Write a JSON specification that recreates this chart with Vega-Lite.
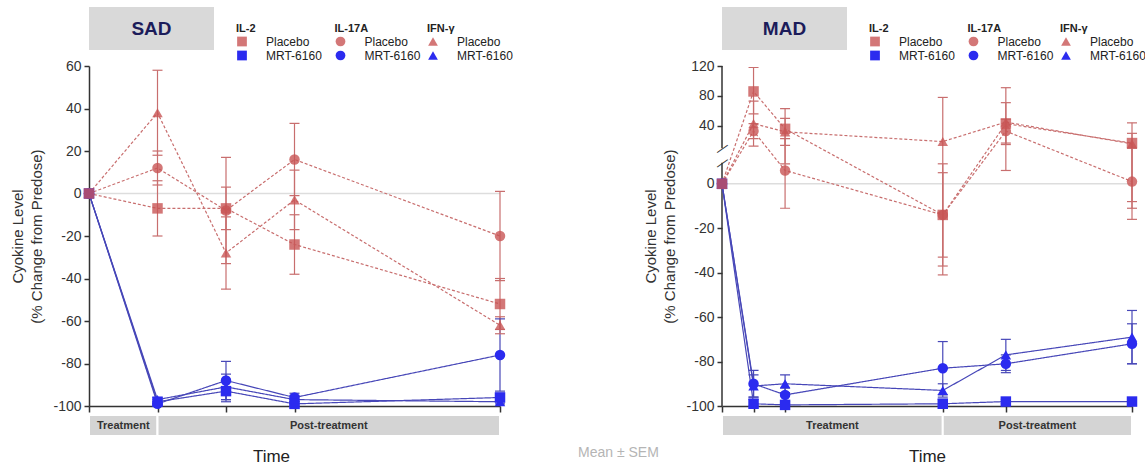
{
  "$schema": "https://vega.github.io/schema/vega-lite/v6.json",
  "background": "white",
  "padding": {"left": 10, "top": 7, "right": 0, "bottom": 0},
  "config": {
    "font": "Liberation Sans",
    "view": {"stroke": null},
    "axis": {"grid": false, "domainColor": "#333", "domainWidth": 1.5, "tickColor": "#333", "tickWidth": 1.5, "labelColor": "#333", "labelFontSize": 14, "labelFont": "Liberation Sans", "titleFont": "Liberation Sans", "titleColor": "#333", "titleFontWeight": "normal"},
    "axisY": {"tickSize": 5, "labelPadding": 3, "titleFontSize": 15, "titleLineHeight": 19.5, "titlePadding": 8},
    "legend": {"orient": "none", "direction": "vertical", "titleFontSize": 11, "titleFontWeight": "bold", "titleColor": "#222", "titlePadding": 2, "labelFontSize": 12, "labelColor": "#222", "labelOffset": 18, "symbolSize": 95, "symbolStrokeWidth": 0, "rowPadding": 2, "labelLimit": 200}
  },
  "title": {"text": "Mean ± SEM", "orient": "bottom", "anchor": "start", "frame": "group", "offset": -18, "dx": 489, "fontSize": 14, "fontWeight": "normal", "color": "#b5b5b5", "font": "Liberation Sans"},
  "datasets": {
    "sad": [
      {"cytokine": "IL-2", "group": "MRT-6160", "t": 0, "mean": 0},
      {"cytokine": "IL-2", "group": "MRT-6160", "t": 1, "mean": -98, "lo": -99, "hi": -97},
      {"cytokine": "IL-2", "group": "MRT-6160", "t": 2, "mean": -93, "lo": -98, "hi": -88},
      {"cytokine": "IL-2", "group": "MRT-6160", "t": 3, "mean": -99, "lo": -100, "hi": -98},
      {"cytokine": "IL-2", "group": "MRT-6160", "t": 6, "mean": -96, "lo": -98, "hi": -94},
      {"cytokine": "IL-17A", "group": "MRT-6160", "t": 0, "mean": 0},
      {"cytokine": "IL-17A", "group": "MRT-6160", "t": 1, "mean": -99, "lo": -100, "hi": -98},
      {"cytokine": "IL-17A", "group": "MRT-6160", "t": 2, "mean": -88, "lo": -97, "hi": -79},
      {"cytokine": "IL-17A", "group": "MRT-6160", "t": 3, "mean": -96, "lo": -98, "hi": -94},
      {"cytokine": "IL-17A", "group": "MRT-6160", "t": 6, "mean": -76, "lo": -93, "hi": -59},
      {"cytokine": "IFN-γ", "group": "MRT-6160", "t": 0, "mean": 0},
      {"cytokine": "IFN-γ", "group": "MRT-6160", "t": 1, "mean": -97, "lo": -98, "hi": -96},
      {"cytokine": "IFN-γ", "group": "MRT-6160", "t": 2, "mean": -91, "lo": -97, "hi": -85},
      {"cytokine": "IFN-γ", "group": "MRT-6160", "t": 3, "mean": -97, "lo": -99, "hi": -95},
      {"cytokine": "IFN-γ", "group": "MRT-6160", "t": 6, "mean": -98, "lo": -99, "hi": -97},
      {"cytokine": "IL-2", "group": "Placebo", "t": 0, "mean": 0},
      {"cytokine": "IL-2", "group": "Placebo", "t": 1, "mean": -7, "lo": -20, "hi": 6},
      {"cytokine": "IL-2", "group": "Placebo", "t": 2, "mean": -7, "lo": -17, "hi": 3},
      {"cytokine": "IL-2", "group": "Placebo", "t": 3, "mean": -24, "lo": -38, "hi": -10},
      {"cytokine": "IL-2", "group": "Placebo", "t": 6, "mean": -52, "lo": -64, "hi": -40},
      {"cytokine": "IL-17A", "group": "Placebo", "t": 0, "mean": 0},
      {"cytokine": "IL-17A", "group": "Placebo", "t": 1, "mean": 12, "lo": 4, "hi": 20},
      {"cytokine": "IL-17A", "group": "Placebo", "t": 2, "mean": -8, "lo": -33, "hi": 17},
      {"cytokine": "IL-17A", "group": "Placebo", "t": 3, "mean": 16, "lo": -1, "hi": 33},
      {"cytokine": "IL-17A", "group": "Placebo", "t": 6, "mean": -20, "lo": -41, "hi": 1},
      {"cytokine": "IFN-γ", "group": "Placebo", "t": 0, "mean": 0},
      {"cytokine": "IFN-γ", "group": "Placebo", "t": 1, "mean": 38, "lo": 18, "hi": 58},
      {"cytokine": "IFN-γ", "group": "Placebo", "t": 2, "mean": -28, "lo": -45, "hi": -11},
      {"cytokine": "IFN-γ", "group": "Placebo", "t": 3, "mean": -3, "lo": -17, "hi": 11},
      {"cytokine": "IFN-γ", "group": "Placebo", "t": 6, "mean": -62, "lo": -66, "hi": -58}
    ],
    "mad": [
      {"cytokine": "IL-2", "group": "MRT-6160", "t": 0, "mean": 0},
      {"cytokine": "IL-2", "group": "MRT-6160", "t": 1, "mean": -99, "lo": -100, "hi": -97},
      {"cytokine": "IL-2", "group": "MRT-6160", "t": 2, "mean": -99.5, "lo": -100, "hi": -99},
      {"cytokine": "IL-2", "group": "MRT-6160", "t": 7, "mean": -99, "lo": -100, "hi": -97},
      {"cytokine": "IL-2", "group": "MRT-6160", "t": 9, "mean": -98, "lo": -99, "hi": -97},
      {"cytokine": "IL-2", "group": "MRT-6160", "t": 13, "mean": -98, "lo": -99, "hi": -97},
      {"cytokine": "IL-17A", "group": "MRT-6160", "t": 0, "mean": 0},
      {"cytokine": "IL-17A", "group": "MRT-6160", "t": 1, "mean": -90, "lo": -96, "hi": -84},
      {"cytokine": "IL-17A", "group": "MRT-6160", "t": 2, "mean": -95, "lo": -98, "hi": -92},
      {"cytokine": "IL-17A", "group": "MRT-6160", "t": 7, "mean": -83, "lo": -95, "hi": -71},
      {"cytokine": "IL-17A", "group": "MRT-6160", "t": 9, "mean": -81, "lo": -85, "hi": -77},
      {"cytokine": "IL-17A", "group": "MRT-6160", "t": 13, "mean": -72, "lo": -81, "hi": -63},
      {"cytokine": "IFN-γ", "group": "MRT-6160", "t": 0, "mean": 0},
      {"cytokine": "IFN-γ", "group": "MRT-6160", "t": 1, "mean": -91, "lo": -96, "hi": -86},
      {"cytokine": "IFN-γ", "group": "MRT-6160", "t": 2, "mean": -90, "lo": -94, "hi": -86},
      {"cytokine": "IFN-γ", "group": "MRT-6160", "t": 7, "mean": -93, "lo": -96, "hi": -90},
      {"cytokine": "IFN-γ", "group": "MRT-6160", "t": 9, "mean": -77, "lo": -84, "hi": -70},
      {"cytokine": "IFN-γ", "group": "MRT-6160", "t": 13, "mean": -69, "lo": -81, "hi": -57},
      {"cytokine": "IL-2", "group": "Placebo", "t": 0, "mean": 0},
      {"cytokine": "IL-2", "group": "Placebo", "t": 1, "mean": 86, "lo": 56, "hi": 118},
      {"cytokine": "IL-2", "group": "Placebo", "t": 2, "mean": 36, "lo": 9, "hi": 63},
      {"cytokine": "IL-2", "group": "Placebo", "t": 7, "mean": -14, "lo": -33, "hi": 5},
      {"cytokine": "IL-2", "group": "Placebo", "t": 9, "mean": 43, "lo": 15, "hi": 71},
      {"cytokine": "IL-2", "group": "Placebo", "t": 13, "mean": 17, "lo": -11, "hi": 44},
      {"cytokine": "IL-17A", "group": "Placebo", "t": 0, "mean": 0},
      {"cytokine": "IL-17A", "group": "Placebo", "t": 1, "mean": 33, "lo": 23, "hi": 43},
      {"cytokine": "IL-17A", "group": "Placebo", "t": 2, "mean": 6, "lo": -11, "hi": 23},
      {"cytokine": "IL-17A", "group": "Placebo", "t": 7, "mean": -14, "lo": -37, "hi": 9},
      {"cytokine": "IL-17A", "group": "Placebo", "t": 9, "mean": 33, "lo": 17, "hi": 49},
      {"cytokine": "IL-17A", "group": "Placebo", "t": 13, "mean": 1, "lo": -8, "hi": 10},
      {"cytokine": "IFN-γ", "group": "Placebo", "t": 0, "mean": 0},
      {"cytokine": "IFN-γ", "group": "Placebo", "t": 1, "mean": 43, "lo": 13, "hi": 73},
      {"cytokine": "IFN-γ", "group": "Placebo", "t": 2, "mean": 32, "lo": 14, "hi": 50},
      {"cytokine": "IFN-γ", "group": "Placebo", "t": 7, "mean": 19, "lo": -41, "hi": 78},
      {"cytokine": "IFN-γ", "group": "Placebo", "t": 9, "mean": 45, "lo": 6, "hi": 91},
      {"cytokine": "IFN-γ", "group": "Placebo", "t": 13, "mean": 16, "lo": -16, "hi": 30}
    ]
  },
  "spacing": 130,
  "resolve": {"scale": {"color": "independent", "stroke": "independent", "fill": "independent", "strokeDash": "independent"}, "legend": {"color": "independent"}},
  "hconcat": [
    {
      "spacing": 16,
      "bounds": "flush",
      "resolve": {"scale": {"color": "independent", "stroke": "independent", "fill": "independent", "strokeDash": "independent"}, "legend": {"color": "independent"}},
      "vconcat": [
        {
          "width": 125, "height": 43,
          "view": {"fill": "#d9d9d9", "stroke": null},
          "data": {"values": [{"label": "SAD"}]},
          "mark": {"type": "text", "fontSize": 19, "fontWeight": "bold", "color": "#1c1c5a", "font": "Liberation Sans"},
          "encoding": {"text": {"field": "label", "type": "nominal"}}
        },
        {
          "spacing": 9,
          "bounds": "flush",
          "resolve": {"scale": {"color": "independent", "stroke": "independent", "fill": "independent", "strokeDash": "independent"}, "legend": {"color": "independent"}},
          "vconcat": [
            {
              "width": 411, "height": 340,
              "resolve": {"scale": {"color": "independent"}, "legend": {"color": "independent"}},
              "layer": [
                {
                  "data": {"values": [{"z": 0}]},
                  "mark": {"type": "rule", "color": "#dddddd", "strokeWidth": 1.5},
                  "encoding": {"y": {"field": "z", "type": "quantitative", "scale": {"domain": [-100, 60], "nice": false, "zero": false}, "axis": {"values": [-100, -80, -60, -40, -20, 0, 20, 40, 60], "labelExpr": "toString(datum.value)", "title": ["Cyokine Level", "(% Change from Predose)"]}}}
                },
                {
                  "data": {"name": "sad"},
                  "transform": [{"calculate": "datum.cytokine + '|' + datum.group", "as": "series"}],
                  "mark": {"type": "rule", "strokeWidth": 1.2},
                  "encoding": {
                    "x": {"field": "t", "type": "quantitative", "scale": {"domain": [0, 6], "nice": false, "zero": false}, "axis": {"values": [0, 1, 2, 3, 6], "labels": false, "title": null, "tickSize": 6}},
                    "y": {"field": "lo", "type": "quantitative", "scale": {"domain": [-100, 60], "nice": false, "zero": false}, "axis": {"values": [-100, -80, -60, -40, -20, 0, 20, 40, 60], "labelExpr": "toString(datum.value)", "title": ["Cyokine Level", "(% Change from Predose)"]}},
                    "y2": {"field": "hi"},
                    "stroke": {"field": "series", "type": "nominal", "legend": null, "scale": {"domain": ["IL-2|Placebo", "IL-17A|Placebo", "IFN-γ|Placebo", "IL-2|MRT-6160", "IL-17A|MRT-6160", "IFN-γ|MRT-6160"], "range": ["#c86e6e", "#c86e6e", "#c86e6e", "#4747b8", "#4747b8", "#4747b8"]}}
                  }
                },
                {
                  "data": {"name": "sad"},
                  "transform": [{"calculate": "datum.cytokine + '|' + datum.group", "as": "series"}],
                  "mark": {"type": "tick", "orient": "horizontal", "size": 10, "thickness": 1.2, "opacity": 1},
                  "encoding": {
                    "x": {"field": "t", "type": "quantitative", "scale": {"domain": [0, 6], "nice": false, "zero": false}, "axis": {"values": [0, 1, 2, 3, 6], "labels": false, "title": null, "tickSize": 6}},
                    "y": {"field": "lo", "type": "quantitative", "scale": {"domain": [-100, 60], "nice": false, "zero": false}, "axis": {"values": [-100, -80, -60, -40, -20, 0, 20, 40, 60], "labelExpr": "toString(datum.value)", "title": ["Cyokine Level", "(% Change from Predose)"]}},
                    "fill": {"field": "series", "type": "nominal", "legend": null, "scale": {"domain": ["IL-2|Placebo", "IL-17A|Placebo", "IFN-γ|Placebo", "IL-2|MRT-6160", "IL-17A|MRT-6160", "IFN-γ|MRT-6160"], "range": ["#c86e6e", "#c86e6e", "#c86e6e", "#4747b8", "#4747b8", "#4747b8"]}}
                  }
                },
                {
                  "data": {"name": "sad"},
                  "transform": [{"calculate": "datum.cytokine + '|' + datum.group", "as": "series"}],
                  "mark": {"type": "tick", "orient": "horizontal", "size": 10, "thickness": 1.2, "opacity": 1},
                  "encoding": {
                    "x": {"field": "t", "type": "quantitative", "scale": {"domain": [0, 6], "nice": false, "zero": false}, "axis": {"values": [0, 1, 2, 3, 6], "labels": false, "title": null, "tickSize": 6}},
                    "y": {"field": "hi", "type": "quantitative", "scale": {"domain": [-100, 60], "nice": false, "zero": false}, "axis": {"values": [-100, -80, -60, -40, -20, 0, 20, 40, 60], "labelExpr": "toString(datum.value)", "title": ["Cyokine Level", "(% Change from Predose)"]}},
                    "fill": {"field": "series", "type": "nominal", "legend": null, "scale": {"domain": ["IL-2|Placebo", "IL-17A|Placebo", "IFN-γ|Placebo", "IL-2|MRT-6160", "IL-17A|MRT-6160", "IFN-γ|MRT-6160"], "range": ["#c86e6e", "#c86e6e", "#c86e6e", "#4747b8", "#4747b8", "#4747b8"]}}
                  }
                },
                {
                  "data": {"name": "sad"},
                  "transform": [{"calculate": "datum.cytokine + '|' + datum.group", "as": "series"}],
                  "mark": {"type": "line", "strokeWidth": 1.2},
                  "encoding": {
                    "x": {"field": "t", "type": "quantitative", "scale": {"domain": [0, 6], "nice": false, "zero": false}, "axis": {"values": [0, 1, 2, 3, 6], "labels": false, "title": null, "tickSize": 6}},
                    "y": {"field": "mean", "type": "quantitative", "scale": {"domain": [-100, 60], "nice": false, "zero": false}, "axis": {"values": [-100, -80, -60, -40, -20, 0, 20, 40, 60], "labelExpr": "toString(datum.value)", "title": ["Cyokine Level", "(% Change from Predose)"]}},
                    "stroke": {"field": "series", "type": "nominal", "legend": null, "scale": {"domain": ["IL-2|Placebo", "IL-17A|Placebo", "IFN-γ|Placebo", "IL-2|MRT-6160", "IL-17A|MRT-6160", "IFN-γ|MRT-6160"], "range": ["#d28484", "#d28484", "#d28484", "#4a4ab0", "#4a4ab0", "#4a4ab0"]}},
                    "strokeDash": {"field": "group", "type": "nominal", "legend": null, "scale": {"domain": ["Placebo", "MRT-6160"], "range": [[3, 2], [1, 0]]}}
                  }
                },
                {
                  "data": {"name": "sad"},
                  "transform": [{"filter": "datum.cytokine == 'IFN-γ'"}],
                  "mark": {"type": "point", "shape": "triangle-up", "filled": true, "size": 110, "opacity": 1, "strokeWidth": 0},
                  "encoding": {
                    "x": {"field": "t", "type": "quantitative", "scale": {"domain": [0, 6], "nice": false, "zero": false}, "axis": {"values": [0, 1, 2, 3, 6], "labels": false, "title": null, "tickSize": 6}},
                    "y": {"field": "mean", "type": "quantitative", "scale": {"domain": [-100, 60], "nice": false, "zero": false}, "axis": {"values": [-100, -80, -60, -40, -20, 0, 20, 40, 60], "labelExpr": "toString(datum.value)", "title": ["Cyokine Level", "(% Change from Predose)"]}},
                    "color": {"field": "group", "type": "nominal", "scale": {"domain": ["Placebo", "MRT-6160"], "range": ["rgba(200,85,85,0.8)", "#2b2bef"]},
                      "legend": {"title": "IFN-γ", "legendX": 338, "legendY": -43.5, "symbolType": "triangle-up"}}
                  }
                },
                {
                  "data": {"name": "sad"},
                  "transform": [{"filter": "datum.cytokine == 'IL-17A'"}],
                  "mark": {"type": "point", "shape": "circle", "filled": true, "size": 110, "opacity": 1, "strokeWidth": 0},
                  "encoding": {
                    "x": {"field": "t", "type": "quantitative", "scale": {"domain": [0, 6], "nice": false, "zero": false}, "axis": {"values": [0, 1, 2, 3, 6], "labels": false, "title": null, "tickSize": 6}},
                    "y": {"field": "mean", "type": "quantitative", "scale": {"domain": [-100, 60], "nice": false, "zero": false}, "axis": {"values": [-100, -80, -60, -40, -20, 0, 20, 40, 60], "labelExpr": "toString(datum.value)", "title": ["Cyokine Level", "(% Change from Predose)"]}},
                    "color": {"field": "group", "type": "nominal", "scale": {"domain": ["Placebo", "MRT-6160"], "range": ["rgba(200,85,85,0.8)", "#2b2bef"]},
                      "legend": {"title": "IL-17A", "legendX": 245.5, "legendY": -43.5, "symbolType": "circle"}}
                  }
                },
                {
                  "data": {"name": "sad"},
                  "transform": [{"filter": "datum.cytokine == 'IL-2'"}],
                  "mark": {"type": "point", "shape": "square", "filled": true, "size": 110, "opacity": 1, "strokeWidth": 0},
                  "encoding": {
                    "x": {"field": "t", "type": "quantitative", "scale": {"domain": [0, 6], "nice": false, "zero": false}, "axis": {"values": [0, 1, 2, 3, 6], "labels": false, "title": null, "tickSize": 6}},
                    "y": {"field": "mean", "type": "quantitative", "scale": {"domain": [-100, 60], "nice": false, "zero": false}, "axis": {"values": [-100, -80, -60, -40, -20, 0, 20, 40, 60], "labelExpr": "toString(datum.value)", "title": ["Cyokine Level", "(% Change from Predose)"]}},
                    "color": {"field": "group", "type": "nominal", "scale": {"domain": ["Placebo", "MRT-6160"], "range": ["rgba(200,85,85,0.8)", "#2b2bef"]},
                      "legend": {"title": "IL-2", "legendX": 147, "legendY": -43.5, "symbolType": "square"}}
                  }
                }
              ]
            },
            {
              "width": 411, "height": 21,
              "data": {"values": [{"phase": "Treatment", "start": 0, "end": 1}, {"phase": "Post-treatment", "start": 1, "end": 6}]},
              "transform": [{"calculate": "(datum.start + datum.end) / 2", "as": "mid"}],
              "layer": [
                {
                  "mark": {"type": "rect", "color": "#d4d4d4", "stroke": "white", "strokeWidth": 2},
                  "encoding": {
                    "x": {"field": "start", "type": "quantitative", "scale": {"domain": [0, 6], "nice": false, "zero": false},
                      "axis": {"domain": false, "ticks": false, "labels": false, "title": "Time", "titleFontSize": 17, "titleColor": "#222", "titlePadding": 12, "titleX": 182}},
                    "x2": {"field": "end"}
                  }
                },
                {
                  "mark": {"type": "text", "fontSize": 11, "fontWeight": "bold", "color": "#333"},
                  "encoding": {
                    "x": {"field": "mid", "type": "quantitative", "scale": {"domain": [0, 6], "nice": false, "zero": false},
                      "axis": {"domain": false, "ticks": false, "labels": false, "title": "Time", "titleFontSize": 17, "titleColor": "#222", "titlePadding": 12, "titleX": 182}},
                    "text": {"field": "phase", "type": "nominal"}
                  }
                }
              ]
            }
          ]
        }
      ]
    },
    {
      "spacing": 16,
      "bounds": "flush",
      "resolve": {"scale": {"color": "independent", "stroke": "independent", "fill": "independent", "strokeDash": "independent"}, "legend": {"color": "independent"}},
      "vconcat": [
        {
          "width": 125, "height": 43,
          "view": {"fill": "#d9d9d9", "stroke": null},
          "data": {"values": [{"label": "MAD"}]},
          "mark": {"type": "text", "fontSize": 19, "fontWeight": "bold", "color": "#1c1c5a", "font": "Liberation Sans"},
          "encoding": {"text": {"field": "label", "type": "nominal"}}
        },
        {
          "spacing": 9,
          "bounds": "flush",
          "resolve": {"scale": {"color": "independent", "stroke": "independent", "fill": "independent", "strokeDash": "independent"}, "legend": {"color": "independent"}},
          "vconcat": [
            {
              "width": 410, "height": 340,
              "resolve": {"scale": {"color": "independent"}, "legend": {"color": "independent"}},
              "layer": [
                {
                  "data": {"values": [{"z": 0}]},
                  "mark": {"type": "rule", "color": "#dddddd", "strokeWidth": 1.5},
                  "encoding": {"y": {"field": "z", "type": "quantitative", "scale": {"domain": [-100, 9.5, 10, 120], "range": [340, 96.7, 82.3, 0], "nice": false, "zero": false}, "axis": {"values": [-100, -80, -60, -40, -20, 0, 40, 80, 120], "labelExpr": "toString(datum.value)", "domain": false, "title": ["Cyokine Level", "(% Change from Predose)"]}}}
                },
                {
                  "data": {"values": [{"a": -100, "b": 9.5}, {"a": 10, "b": 120}]},
                  "mark": {"type": "rule", "color": "#333", "strokeWidth": 1.5},
                  "encoding": {
                    "x": {"datum": 0, "type": "quantitative", "scale": {"domain": [0, 13], "nice": false, "zero": false}, "axis": {"values": [0, 1, 2, 7, 9, 13], "labels": false, "title": null, "tickSize": 6}},
                    "y": {"field": "a", "type": "quantitative", "scale": {"domain": [-100, 9.5, 10, 120], "range": [340, 96.7, 82.3, 0], "nice": false, "zero": false}, "axis": {"values": [-100, -80, -60, -40, -20, 0, 40, 80, 120], "labelExpr": "toString(datum.value)", "domain": false, "title": ["Cyokine Level", "(% Change from Predose)"]}},
                    "y2": {"field": "b"}
                  }
                },
                {
                  "data": {"values": [{"b": 9.5}, {"b": 10}]},
                  "mark": {"type": "text", "text": "—", "angle": -35, "fontSize": 13, "color": "#333"},
                  "encoding": {
                    "x": {"datum": 0, "type": "quantitative", "scale": {"domain": [0, 13], "nice": false, "zero": false}, "axis": {"values": [0, 1, 2, 7, 9, 13], "labels": false, "title": null, "tickSize": 6}},
                    "y": {"field": "b", "type": "quantitative", "scale": {"domain": [-100, 9.5, 10, 120], "range": [340, 96.7, 82.3, 0], "nice": false, "zero": false}, "axis": {"values": [-100, -80, -60, -40, -20, 0, 40, 80, 120], "labelExpr": "toString(datum.value)", "domain": false, "title": ["Cyokine Level", "(% Change from Predose)"]}}
                  }
                },
                {
                  "data": {"name": "mad"},
                  "transform": [{"calculate": "datum.cytokine + '|' + datum.group", "as": "series"}],
                  "mark": {"type": "rule", "strokeWidth": 1.2},
                  "encoding": {
                    "x": {"field": "t", "type": "quantitative", "scale": {"domain": [0, 13], "nice": false, "zero": false}, "axis": {"values": [0, 1, 2, 7, 9, 13], "labels": false, "title": null, "tickSize": 6}},
                    "y": {"field": "lo", "type": "quantitative", "scale": {"domain": [-100, 9.5, 10, 120], "range": [340, 96.7, 82.3, 0], "nice": false, "zero": false}, "axis": {"values": [-100, -80, -60, -40, -20, 0, 40, 80, 120], "labelExpr": "toString(datum.value)", "domain": false, "title": ["Cyokine Level", "(% Change from Predose)"]}},
                    "y2": {"field": "hi"},
                    "stroke": {"field": "series", "type": "nominal", "legend": null, "scale": {"domain": ["IL-2|Placebo", "IL-17A|Placebo", "IFN-γ|Placebo", "IL-2|MRT-6160", "IL-17A|MRT-6160", "IFN-γ|MRT-6160"], "range": ["#c86e6e", "#c86e6e", "#c86e6e", "#4747b8", "#4747b8", "#4747b8"]}}
                  }
                },
                {
                  "data": {"name": "mad"},
                  "transform": [{"calculate": "datum.cytokine + '|' + datum.group", "as": "series"}],
                  "mark": {"type": "tick", "orient": "horizontal", "size": 10, "thickness": 1.2, "opacity": 1},
                  "encoding": {
                    "x": {"field": "t", "type": "quantitative", "scale": {"domain": [0, 13], "nice": false, "zero": false}, "axis": {"values": [0, 1, 2, 7, 9, 13], "labels": false, "title": null, "tickSize": 6}},
                    "y": {"field": "lo", "type": "quantitative", "scale": {"domain": [-100, 9.5, 10, 120], "range": [340, 96.7, 82.3, 0], "nice": false, "zero": false}, "axis": {"values": [-100, -80, -60, -40, -20, 0, 40, 80, 120], "labelExpr": "toString(datum.value)", "domain": false, "title": ["Cyokine Level", "(% Change from Predose)"]}},
                    "fill": {"field": "series", "type": "nominal", "legend": null, "scale": {"domain": ["IL-2|Placebo", "IL-17A|Placebo", "IFN-γ|Placebo", "IL-2|MRT-6160", "IL-17A|MRT-6160", "IFN-γ|MRT-6160"], "range": ["#c86e6e", "#c86e6e", "#c86e6e", "#4747b8", "#4747b8", "#4747b8"]}}
                  }
                },
                {
                  "data": {"name": "mad"},
                  "transform": [{"calculate": "datum.cytokine + '|' + datum.group", "as": "series"}],
                  "mark": {"type": "tick", "orient": "horizontal", "size": 10, "thickness": 1.2, "opacity": 1},
                  "encoding": {
                    "x": {"field": "t", "type": "quantitative", "scale": {"domain": [0, 13], "nice": false, "zero": false}, "axis": {"values": [0, 1, 2, 7, 9, 13], "labels": false, "title": null, "tickSize": 6}},
                    "y": {"field": "hi", "type": "quantitative", "scale": {"domain": [-100, 9.5, 10, 120], "range": [340, 96.7, 82.3, 0], "nice": false, "zero": false}, "axis": {"values": [-100, -80, -60, -40, -20, 0, 40, 80, 120], "labelExpr": "toString(datum.value)", "domain": false, "title": ["Cyokine Level", "(% Change from Predose)"]}},
                    "fill": {"field": "series", "type": "nominal", "legend": null, "scale": {"domain": ["IL-2|Placebo", "IL-17A|Placebo", "IFN-γ|Placebo", "IL-2|MRT-6160", "IL-17A|MRT-6160", "IFN-γ|MRT-6160"], "range": ["#c86e6e", "#c86e6e", "#c86e6e", "#4747b8", "#4747b8", "#4747b8"]}}
                  }
                },
                {
                  "data": {"name": "mad"},
                  "transform": [{"calculate": "datum.cytokine + '|' + datum.group", "as": "series"}],
                  "mark": {"type": "line", "strokeWidth": 1.2},
                  "encoding": {
                    "x": {"field": "t", "type": "quantitative", "scale": {"domain": [0, 13], "nice": false, "zero": false}, "axis": {"values": [0, 1, 2, 7, 9, 13], "labels": false, "title": null, "tickSize": 6}},
                    "y": {"field": "mean", "type": "quantitative", "scale": {"domain": [-100, 9.5, 10, 120], "range": [340, 96.7, 82.3, 0], "nice": false, "zero": false}, "axis": {"values": [-100, -80, -60, -40, -20, 0, 40, 80, 120], "labelExpr": "toString(datum.value)", "domain": false, "title": ["Cyokine Level", "(% Change from Predose)"]}},
                    "stroke": {"field": "series", "type": "nominal", "legend": null, "scale": {"domain": ["IL-2|Placebo", "IL-17A|Placebo", "IFN-γ|Placebo", "IL-2|MRT-6160", "IL-17A|MRT-6160", "IFN-γ|MRT-6160"], "range": ["#d28484", "#d28484", "#d28484", "#4a4ab0", "#4a4ab0", "#4a4ab0"]}},
                    "strokeDash": {"field": "group", "type": "nominal", "legend": null, "scale": {"domain": ["Placebo", "MRT-6160"], "range": [[3, 2], [1, 0]]}}
                  }
                },
                {
                  "data": {"name": "mad"},
                  "transform": [{"filter": "datum.cytokine == 'IFN-γ'"}],
                  "mark": {"type": "point", "shape": "triangle-up", "filled": true, "size": 110, "opacity": 1, "strokeWidth": 0},
                  "encoding": {
                    "x": {"field": "t", "type": "quantitative", "scale": {"domain": [0, 13], "nice": false, "zero": false}, "axis": {"values": [0, 1, 2, 7, 9, 13], "labels": false, "title": null, "tickSize": 6}},
                    "y": {"field": "mean", "type": "quantitative", "scale": {"domain": [-100, 9.5, 10, 120], "range": [340, 96.7, 82.3, 0], "nice": false, "zero": false}, "axis": {"values": [-100, -80, -60, -40, -20, 0, 40, 80, 120], "labelExpr": "toString(datum.value)", "domain": false, "title": ["Cyokine Level", "(% Change from Predose)"]}},
                    "color": {"field": "group", "type": "nominal", "scale": {"domain": ["Placebo", "MRT-6160"], "range": ["rgba(200,85,85,0.8)", "#2b2bef"]},
                      "legend": {"title": "IFN-γ", "legendX": 338, "legendY": -43.5, "symbolType": "triangle-up"}}
                  }
                },
                {
                  "data": {"name": "mad"},
                  "transform": [{"filter": "datum.cytokine == 'IL-17A'"}],
                  "mark": {"type": "point", "shape": "circle", "filled": true, "size": 110, "opacity": 1, "strokeWidth": 0},
                  "encoding": {
                    "x": {"field": "t", "type": "quantitative", "scale": {"domain": [0, 13], "nice": false, "zero": false}, "axis": {"values": [0, 1, 2, 7, 9, 13], "labels": false, "title": null, "tickSize": 6}},
                    "y": {"field": "mean", "type": "quantitative", "scale": {"domain": [-100, 9.5, 10, 120], "range": [340, 96.7, 82.3, 0], "nice": false, "zero": false}, "axis": {"values": [-100, -80, -60, -40, -20, 0, 40, 80, 120], "labelExpr": "toString(datum.value)", "domain": false, "title": ["Cyokine Level", "(% Change from Predose)"]}},
                    "color": {"field": "group", "type": "nominal", "scale": {"domain": ["Placebo", "MRT-6160"], "range": ["rgba(200,85,85,0.8)", "#2b2bef"]},
                      "legend": {"title": "IL-17A", "legendX": 245.5, "legendY": -43.5, "symbolType": "circle"}}
                  }
                },
                {
                  "data": {"name": "mad"},
                  "transform": [{"filter": "datum.cytokine == 'IL-2'"}],
                  "mark": {"type": "point", "shape": "square", "filled": true, "size": 110, "opacity": 1, "strokeWidth": 0},
                  "encoding": {
                    "x": {"field": "t", "type": "quantitative", "scale": {"domain": [0, 13], "nice": false, "zero": false}, "axis": {"values": [0, 1, 2, 7, 9, 13], "labels": false, "title": null, "tickSize": 6}},
                    "y": {"field": "mean", "type": "quantitative", "scale": {"domain": [-100, 9.5, 10, 120], "range": [340, 96.7, 82.3, 0], "nice": false, "zero": false}, "axis": {"values": [-100, -80, -60, -40, -20, 0, 40, 80, 120], "labelExpr": "toString(datum.value)", "domain": false, "title": ["Cyokine Level", "(% Change from Predose)"]}},
                    "color": {"field": "group", "type": "nominal", "scale": {"domain": ["Placebo", "MRT-6160"], "range": ["rgba(200,85,85,0.8)", "#2b2bef"]},
                      "legend": {"title": "IL-2", "legendX": 147, "legendY": -43.5, "symbolType": "square"}}
                  }
                }
              ]
            },
            {
              "width": 410, "height": 21,
              "data": {"values": [{"phase": "Treatment", "start": 0, "end": 7}, {"phase": "Post-treatment", "start": 7, "end": 13}]},
              "transform": [{"calculate": "(datum.start + datum.end) / 2", "as": "mid"}],
              "layer": [
                {
                  "mark": {"type": "rect", "color": "#d4d4d4", "stroke": "white", "strokeWidth": 2},
                  "encoding": {
                    "x": {"field": "start", "type": "quantitative", "scale": {"domain": [0, 13], "nice": false, "zero": false},
                      "axis": {"domain": false, "ticks": false, "labels": false, "title": "Time", "titleFontSize": 17, "titleColor": "#222", "titlePadding": 12}},
                    "x2": {"field": "end"}
                  }
                },
                {
                  "mark": {"type": "text", "fontSize": 11, "fontWeight": "bold", "color": "#333"},
                  "encoding": {
                    "x": {"field": "mid", "type": "quantitative", "scale": {"domain": [0, 13], "nice": false, "zero": false},
                      "axis": {"domain": false, "ticks": false, "labels": false, "title": "Time", "titleFontSize": 17, "titleColor": "#222", "titlePadding": 12}},
                    "text": {"field": "phase", "type": "nominal"}
                  }
                }
              ]
            }
          ]
        }
      ]
    }
  ]
}
